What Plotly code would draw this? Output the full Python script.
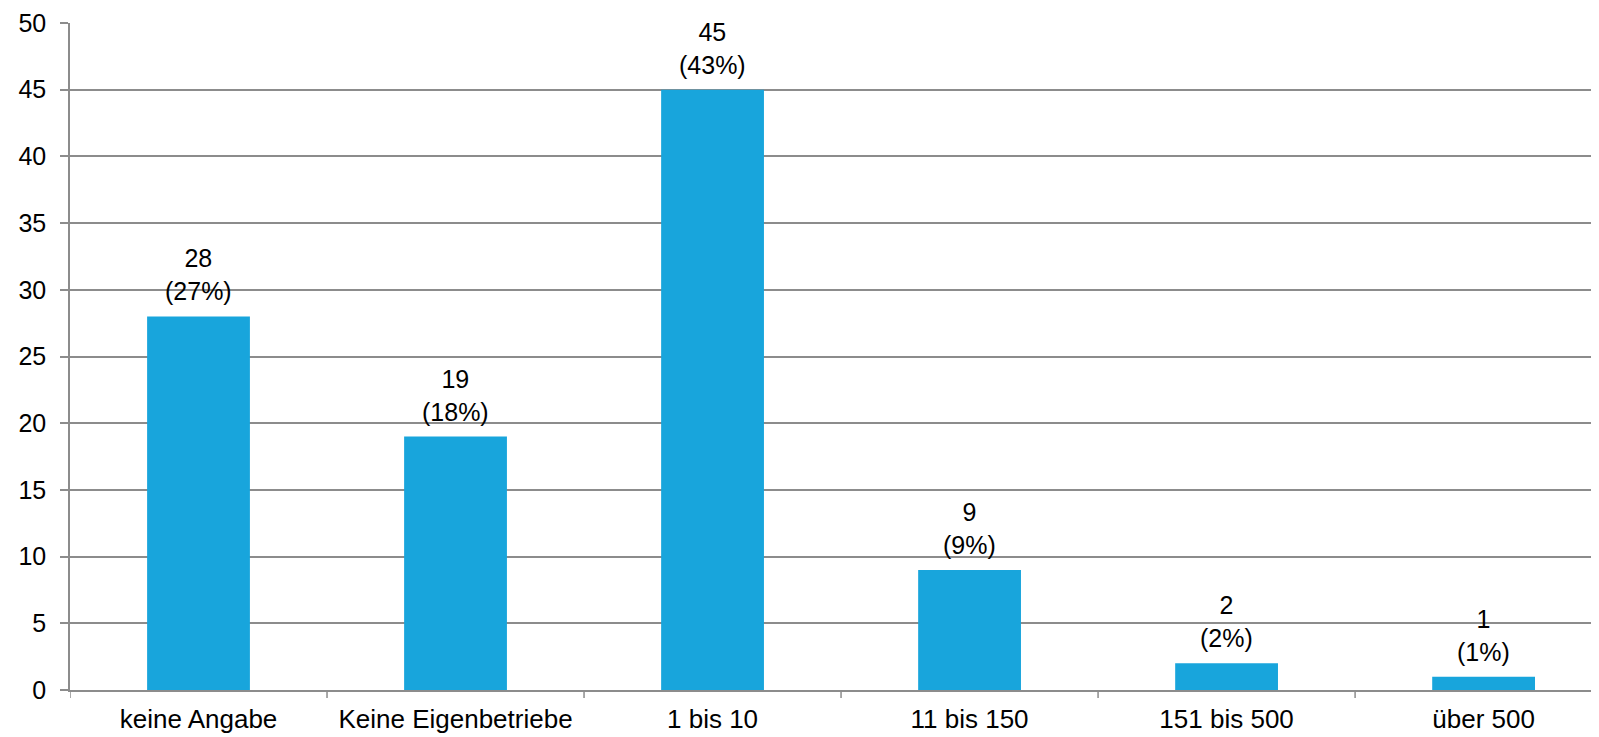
import plotly.graph_objects as go

categories = ["keine Angabe", "Keine Eigenbetriebe", "1 bis 10", "11 bis 150", "151 bis 500", "über 500"]
counts = [28, 19, 45, 9, 2, 1]
percents = [27, 18, 43, 9, 2, 1]
labels = [f"{c}<br>({p}%)" for c, p in zip(counts, percents)]
xpos = list(range(len(categories)))

FONT = "Liberation Sans, Arial, sans-serif"

fig = go.Figure(go.Bar(
    x=xpos, y=counts,
    marker=dict(color="#18a5dc", line=dict(width=0)),
    width=0.4,
))

for x, c, lab in zip(xpos, counts, labels):
    fig.add_annotation(x=x, y=c, xref="x", yref="y", text=lab, showarrow=False,
                       yanchor="bottom", yshift=9,
                       font=dict(size=25, color="#000000", family=FONT))

# page body has an 8px default margin, so the figure is sized to fit the window
fig.update_layout(
    width=1591, height=729,
    margin=dict(l=62, r=0, t=15, b=47),
    plot_bgcolor="white", paper_bgcolor="white",
    font=dict(family=FONT, size=25, color="#000000"),
    showlegend=False,
)
fig.update_xaxes(
    tickmode="array", tickvals=xpos, ticktext=categories,
    range=[-0.5, 5.449], showgrid=False, automargin=False,
    showline=True, linecolor="#8c8c8c", linewidth=1.5,
    ticks="", tickfont=dict(size=26), ticklabelstandoff=5,
)
fig.update_yaxes(
    range=[0, 50], dtick=5, showgrid=True, gridcolor="#8c8c8c", gridwidth=1.5,
    showline=True, linecolor="#8c8c8c", linewidth=1.5, automargin=False,
    ticks="outside", ticklen=8, tickcolor="#8c8c8c", tickwidth=1.5,
    zeroline=False, tickfont=dict(size=25), ticklabelstandoff=9,
)
for b in [-0.5, 0.5, 1.5, 2.5, 3.5, 4.5]:
    fig.add_shape(type="line", xref="x", yref="paper", x0=b, x1=b, y0=0, y1=-0.012,
                  line=dict(color="#8c8c8c", width=1.5))

fig.write_html("out.html")
